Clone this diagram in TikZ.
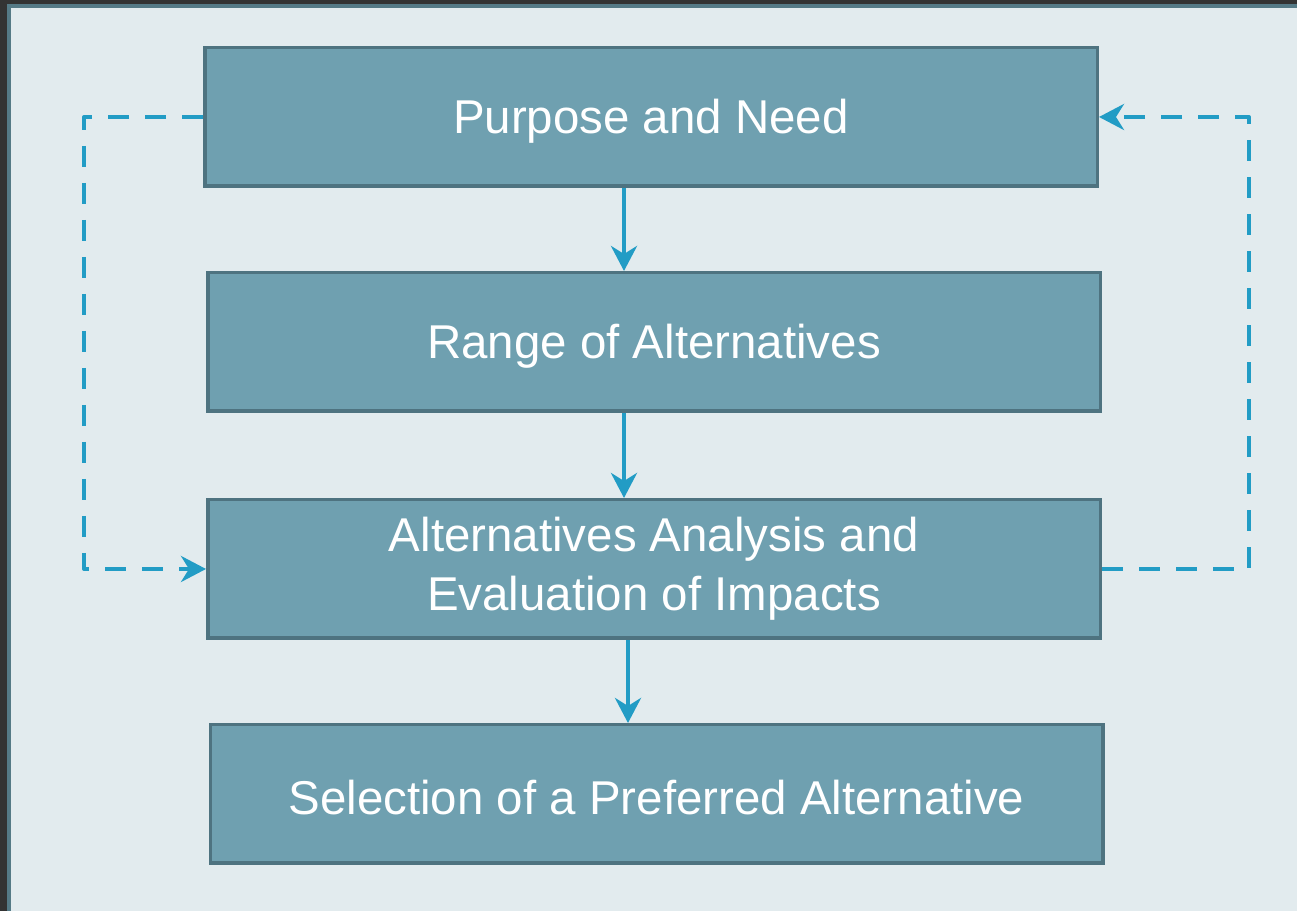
\documentclass[tikz,border=0pt]{standalone}
\usepackage{fontspec}
\setmainfont{Liberation Sans}
\usepackage{xcolor}
\usetikzlibrary{arrows.meta,positioning}

\definecolor{frame}{HTML}{333333}
\definecolor{panel}{HTML}{E2EBEE}
\definecolor{panelline}{HTML}{557A86}
\definecolor{boxfill}{HTML}{6FA0B0}
\definecolor{boxline}{HTML}{4E7380}
\definecolor{flowblue}{HTML}{229CC5}

\begin{document}
\begin{tikzpicture}[
	phase/.style={draw=boxline,fill=boxfill,line width=0.07cm,minimum width=17.85cm,
		minimum height=2.77cm,text=white,align=center,inner sep=0pt,
		font=\fontsize{27}{33.5}\selectfont,execute at begin node={\rule{0pt}{24pt}}},
	flow/.style={draw=flowblue,line width=0.09cm,-{Stealth[length=0.5cm,width=0.52cm,inset=0.16cm]}},
	loopback/.style={draw=flowblue,line width=0.08cm,line join=round,
		dash pattern=on 0.42cm off 0.32cm,-{Stealth[length=0.5cm,width=0.52cm,inset=0.16cm]}}
	]
	\useasboundingbox (0,0) rectangle (25.94,18.22);
	\fill[frame] (0,0) rectangle (25.94,18.22);
	\draw[panelline,fill=panel,line width=0.08cm] (0.18,-0.5) rectangle (26.5,18.1);
	
	% the four phases
	\node[phase] (pn) at (13.02,15.88) {Purpose and Need};
	\node[phase] (ra) at (13.08,11.38) {Range of Alternatives};
	\node[phase] (an) at (13.08,6.84) {Alternatives Analysis and\\Evaluation of Impacts};
	\node[phase] (sp) at (13.13,2.34) {Selection of a Preferred Alternative};
	
	\coordinate (ax) at (12.48,0);
	\coordinate (bx) at (12.56,0);
	\coordinate (lx) at (1.68,0);
	\coordinate (rx) at (24.98,0);
	
	\draw[flow] (pn.south -| ax) -- (ra.north -| ax);
	\draw[flow] (ra.south -| ax) -- (an.north -| ax);
	\draw[flow] (an.south -| bx) -- (sp.north -| bx);
	
	% iteration loops
	\draw[loopback] (pn.west) -- (pn.west -| lx) |- (an.west);
	\draw[loopback] (an.east) -- (an.east -| rx) |- (pn.east);
\end{tikzpicture}
\end{document}
